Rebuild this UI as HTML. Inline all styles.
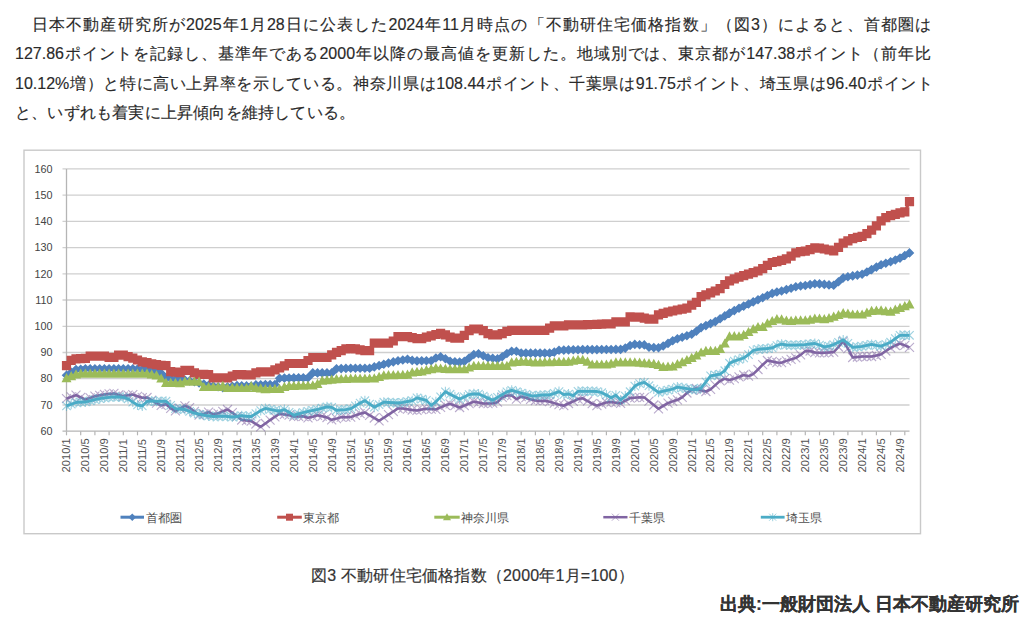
<!DOCTYPE html>
<html lang="ja"><head><meta charset="utf-8"><style>
html,body{margin:0;padding:0;background:#fff;width:1024px;height:619px;overflow:hidden}
body{position:relative;font-family:"Liberation Sans",sans-serif;color:#2a2a2a}
.ln{position:absolute;white-space:nowrap;font-size:16px;-webkit-text-stroke:0.15px #2a2a2a;line-height:20px;left:15px;width:916px;text-align:justify;text-align-last:justify}
#l4{text-align:left;text-align-last:left;letter-spacing:0.2px}
svg{position:absolute;left:0;top:0}
.yl{font-family:"Liberation Sans",sans-serif;font-size:10.8px;fill:#444}
.xl{font-family:"Liberation Sans",sans-serif;font-size:11.2px;fill:#505050}
.lg{font-family:"Liberation Sans",sans-serif;font-size:12px;fill:#4d4d4d}
#cap{position:absolute;left:311px;top:566px;font-size:16px;-webkit-text-stroke:0.2px #333;letter-spacing:0.2px;line-height:20px;white-space:nowrap;color:#333}
#src{position:absolute;left:720px;top:594px;font-size:17.5px;line-height:20px;white-space:nowrap;font-weight:bold;color:#333;-webkit-text-stroke:0.2px #333}
</style></head><body>
<div class="ln" id="l1" style="top:15px;text-indent:17px">日本不動産研究所が2025年1月28日に公表した2024年11月時点の「不動研住宅価格指数」（図3）によると、首都圏は</div>
<div class="ln" id="l2" style="top:44px">127.86ポイントを記録し、基準年である2000年以降の最高値を更新した。地域別では、東京都が147.38ポイント（前年比</div>
<div class="ln" id="l3" style="top:74px;width:918px">10.12%増）と特に高い上昇率を示している。神奈川県は108.44ポイント、千葉県は91.75ポイント、埼玉県は96.40ポイント</div>
<div class="ln" id="l4" style="top:103px">と、いずれも着実に上昇傾向を維持している。</div>
<svg width="1024" height="619" viewBox="0 0 1024 619"><rect x="24" y="150.2" width="896.5" height="383.5" fill="#fff" stroke="#c9c9c9" stroke-width="1.4"/><line x1="62.5" x2="909.5" y1="431.2" y2="431.2" stroke="#b5b5b5" stroke-width="1.3"/><text x="52.5" y="434.9" text-anchor="end" class="yl">60</text><line x1="62.5" x2="909.5" y1="405.0" y2="405.0" stroke="#cfcfcf" stroke-width="1.3"/><text x="52.5" y="408.7" text-anchor="end" class="yl">70</text><line x1="62.5" x2="909.5" y1="378.7" y2="378.7" stroke="#cfcfcf" stroke-width="1.3"/><text x="52.5" y="382.4" text-anchor="end" class="yl">80</text><line x1="62.5" x2="909.5" y1="352.5" y2="352.5" stroke="#cfcfcf" stroke-width="1.3"/><text x="52.5" y="356.2" text-anchor="end" class="yl">90</text><line x1="62.5" x2="909.5" y1="326.3" y2="326.3" stroke="#cfcfcf" stroke-width="1.3"/><text x="52.5" y="330.0" text-anchor="end" class="yl">100</text><line x1="62.5" x2="909.5" y1="300.0" y2="300.0" stroke="#cfcfcf" stroke-width="1.3"/><text x="52.5" y="303.7" text-anchor="end" class="yl">110</text><line x1="62.5" x2="909.5" y1="273.8" y2="273.8" stroke="#cfcfcf" stroke-width="1.3"/><text x="52.5" y="277.5" text-anchor="end" class="yl">120</text><line x1="62.5" x2="909.5" y1="247.6" y2="247.6" stroke="#cfcfcf" stroke-width="1.3"/><text x="52.5" y="251.3" text-anchor="end" class="yl">130</text><line x1="62.5" x2="909.5" y1="221.4" y2="221.4" stroke="#cfcfcf" stroke-width="1.3"/><text x="52.5" y="225.1" text-anchor="end" class="yl">140</text><line x1="62.5" x2="909.5" y1="195.1" y2="195.1" stroke="#cfcfcf" stroke-width="1.3"/><text x="52.5" y="198.8" text-anchor="end" class="yl">150</text><line x1="62.5" x2="909.5" y1="168.9" y2="168.9" stroke="#cfcfcf" stroke-width="1.3"/><text x="52.5" y="172.6" text-anchor="end" class="yl">160</text><line x1="66.5" x2="66.5" y1="168.9" y2="431.2" stroke="#b5b5b5" stroke-width="1.3"/><line x1="66.5" x2="66.5" y1="431.2" y2="435.3" stroke="#b5b5b5" stroke-width="1.2"/><line x1="80.7" x2="80.7" y1="431.2" y2="435.3" stroke="#b5b5b5" stroke-width="1.2"/><line x1="94.9" x2="94.9" y1="431.2" y2="435.3" stroke="#b5b5b5" stroke-width="1.2"/><line x1="109.1" x2="109.1" y1="431.2" y2="435.3" stroke="#b5b5b5" stroke-width="1.2"/><line x1="123.3" x2="123.3" y1="431.2" y2="435.3" stroke="#b5b5b5" stroke-width="1.2"/><line x1="137.5" x2="137.5" y1="431.2" y2="435.3" stroke="#b5b5b5" stroke-width="1.2"/><line x1="151.7" x2="151.7" y1="431.2" y2="435.3" stroke="#b5b5b5" stroke-width="1.2"/><line x1="166.0" x2="166.0" y1="431.2" y2="435.3" stroke="#b5b5b5" stroke-width="1.2"/><line x1="180.2" x2="180.2" y1="431.2" y2="435.3" stroke="#b5b5b5" stroke-width="1.2"/><line x1="194.4" x2="194.4" y1="431.2" y2="435.3" stroke="#b5b5b5" stroke-width="1.2"/><line x1="208.6" x2="208.6" y1="431.2" y2="435.3" stroke="#b5b5b5" stroke-width="1.2"/><line x1="222.8" x2="222.8" y1="431.2" y2="435.3" stroke="#b5b5b5" stroke-width="1.2"/><line x1="237.0" x2="237.0" y1="431.2" y2="435.3" stroke="#b5b5b5" stroke-width="1.2"/><line x1="251.2" x2="251.2" y1="431.2" y2="435.3" stroke="#b5b5b5" stroke-width="1.2"/><line x1="265.4" x2="265.4" y1="431.2" y2="435.3" stroke="#b5b5b5" stroke-width="1.2"/><line x1="279.6" x2="279.6" y1="431.2" y2="435.3" stroke="#b5b5b5" stroke-width="1.2"/><line x1="293.8" x2="293.8" y1="431.2" y2="435.3" stroke="#b5b5b5" stroke-width="1.2"/><line x1="308.0" x2="308.0" y1="431.2" y2="435.3" stroke="#b5b5b5" stroke-width="1.2"/><line x1="322.2" x2="322.2" y1="431.2" y2="435.3" stroke="#b5b5b5" stroke-width="1.2"/><line x1="336.5" x2="336.5" y1="431.2" y2="435.3" stroke="#b5b5b5" stroke-width="1.2"/><line x1="350.7" x2="350.7" y1="431.2" y2="435.3" stroke="#b5b5b5" stroke-width="1.2"/><line x1="364.9" x2="364.9" y1="431.2" y2="435.3" stroke="#b5b5b5" stroke-width="1.2"/><line x1="379.1" x2="379.1" y1="431.2" y2="435.3" stroke="#b5b5b5" stroke-width="1.2"/><line x1="393.3" x2="393.3" y1="431.2" y2="435.3" stroke="#b5b5b5" stroke-width="1.2"/><line x1="407.5" x2="407.5" y1="431.2" y2="435.3" stroke="#b5b5b5" stroke-width="1.2"/><line x1="421.7" x2="421.7" y1="431.2" y2="435.3" stroke="#b5b5b5" stroke-width="1.2"/><line x1="435.9" x2="435.9" y1="431.2" y2="435.3" stroke="#b5b5b5" stroke-width="1.2"/><line x1="450.1" x2="450.1" y1="431.2" y2="435.3" stroke="#b5b5b5" stroke-width="1.2"/><line x1="464.3" x2="464.3" y1="431.2" y2="435.3" stroke="#b5b5b5" stroke-width="1.2"/><line x1="478.5" x2="478.5" y1="431.2" y2="435.3" stroke="#b5b5b5" stroke-width="1.2"/><line x1="492.7" x2="492.7" y1="431.2" y2="435.3" stroke="#b5b5b5" stroke-width="1.2"/><line x1="506.9" x2="506.9" y1="431.2" y2="435.3" stroke="#b5b5b5" stroke-width="1.2"/><line x1="521.2" x2="521.2" y1="431.2" y2="435.3" stroke="#b5b5b5" stroke-width="1.2"/><line x1="535.4" x2="535.4" y1="431.2" y2="435.3" stroke="#b5b5b5" stroke-width="1.2"/><line x1="549.6" x2="549.6" y1="431.2" y2="435.3" stroke="#b5b5b5" stroke-width="1.2"/><line x1="563.8" x2="563.8" y1="431.2" y2="435.3" stroke="#b5b5b5" stroke-width="1.2"/><line x1="578.0" x2="578.0" y1="431.2" y2="435.3" stroke="#b5b5b5" stroke-width="1.2"/><line x1="592.2" x2="592.2" y1="431.2" y2="435.3" stroke="#b5b5b5" stroke-width="1.2"/><line x1="606.4" x2="606.4" y1="431.2" y2="435.3" stroke="#b5b5b5" stroke-width="1.2"/><line x1="620.6" x2="620.6" y1="431.2" y2="435.3" stroke="#b5b5b5" stroke-width="1.2"/><line x1="634.8" x2="634.8" y1="431.2" y2="435.3" stroke="#b5b5b5" stroke-width="1.2"/><line x1="649.0" x2="649.0" y1="431.2" y2="435.3" stroke="#b5b5b5" stroke-width="1.2"/><line x1="663.2" x2="663.2" y1="431.2" y2="435.3" stroke="#b5b5b5" stroke-width="1.2"/><line x1="677.4" x2="677.4" y1="431.2" y2="435.3" stroke="#b5b5b5" stroke-width="1.2"/><line x1="691.7" x2="691.7" y1="431.2" y2="435.3" stroke="#b5b5b5" stroke-width="1.2"/><line x1="705.9" x2="705.9" y1="431.2" y2="435.3" stroke="#b5b5b5" stroke-width="1.2"/><line x1="720.1" x2="720.1" y1="431.2" y2="435.3" stroke="#b5b5b5" stroke-width="1.2"/><line x1="734.3" x2="734.3" y1="431.2" y2="435.3" stroke="#b5b5b5" stroke-width="1.2"/><line x1="748.5" x2="748.5" y1="431.2" y2="435.3" stroke="#b5b5b5" stroke-width="1.2"/><line x1="762.7" x2="762.7" y1="431.2" y2="435.3" stroke="#b5b5b5" stroke-width="1.2"/><line x1="776.9" x2="776.9" y1="431.2" y2="435.3" stroke="#b5b5b5" stroke-width="1.2"/><line x1="791.1" x2="791.1" y1="431.2" y2="435.3" stroke="#b5b5b5" stroke-width="1.2"/><line x1="805.3" x2="805.3" y1="431.2" y2="435.3" stroke="#b5b5b5" stroke-width="1.2"/><line x1="819.5" x2="819.5" y1="431.2" y2="435.3" stroke="#b5b5b5" stroke-width="1.2"/><line x1="833.7" x2="833.7" y1="431.2" y2="435.3" stroke="#b5b5b5" stroke-width="1.2"/><line x1="847.9" x2="847.9" y1="431.2" y2="435.3" stroke="#b5b5b5" stroke-width="1.2"/><line x1="862.1" x2="862.1" y1="431.2" y2="435.3" stroke="#b5b5b5" stroke-width="1.2"/><line x1="876.4" x2="876.4" y1="431.2" y2="435.3" stroke="#b5b5b5" stroke-width="1.2"/><line x1="890.6" x2="890.6" y1="431.2" y2="435.3" stroke="#b5b5b5" stroke-width="1.2"/><line x1="904.8" x2="904.8" y1="431.2" y2="435.3" stroke="#b5b5b5" stroke-width="1.2"/><text transform="translate(70.3,472.5) rotate(-90)" class="xl">2010/1</text><text transform="translate(89.2,472.5) rotate(-90)" class="xl">2010/5</text><text transform="translate(108.2,472.5) rotate(-90)" class="xl">2010/9</text><text transform="translate(127.1,472.5) rotate(-90)" class="xl">2011/1</text><text transform="translate(146.1,472.5) rotate(-90)" class="xl">2011/5</text><text transform="translate(165.0,472.5) rotate(-90)" class="xl">2011/9</text><text transform="translate(184.0,472.5) rotate(-90)" class="xl">2012/1</text><text transform="translate(202.9,472.5) rotate(-90)" class="xl">2012/5</text><text transform="translate(221.9,472.5) rotate(-90)" class="xl">2012/9</text><text transform="translate(240.8,472.5) rotate(-90)" class="xl">2013/1</text><text transform="translate(259.7,472.5) rotate(-90)" class="xl">2013/5</text><text transform="translate(278.7,472.5) rotate(-90)" class="xl">2013/9</text><text transform="translate(297.6,472.5) rotate(-90)" class="xl">2014/1</text><text transform="translate(316.6,472.5) rotate(-90)" class="xl">2014/5</text><text transform="translate(335.5,472.5) rotate(-90)" class="xl">2014/9</text><text transform="translate(354.5,472.5) rotate(-90)" class="xl">2015/1</text><text transform="translate(373.4,472.5) rotate(-90)" class="xl">2015/5</text><text transform="translate(392.3,472.5) rotate(-90)" class="xl">2015/9</text><text transform="translate(411.3,472.5) rotate(-90)" class="xl">2016/1</text><text transform="translate(430.2,472.5) rotate(-90)" class="xl">2016/5</text><text transform="translate(449.2,472.5) rotate(-90)" class="xl">2016/9</text><text transform="translate(468.1,472.5) rotate(-90)" class="xl">2017/1</text><text transform="translate(487.1,472.5) rotate(-90)" class="xl">2017/5</text><text transform="translate(506.0,472.5) rotate(-90)" class="xl">2017/9</text><text transform="translate(525.0,472.5) rotate(-90)" class="xl">2018/1</text><text transform="translate(543.9,472.5) rotate(-90)" class="xl">2018/5</text><text transform="translate(562.8,472.5) rotate(-90)" class="xl">2018/9</text><text transform="translate(581.8,472.5) rotate(-90)" class="xl">2019/1</text><text transform="translate(600.7,472.5) rotate(-90)" class="xl">2019/5</text><text transform="translate(619.7,472.5) rotate(-90)" class="xl">2019/9</text><text transform="translate(638.6,472.5) rotate(-90)" class="xl">2020/1</text><text transform="translate(657.6,472.5) rotate(-90)" class="xl">2020/5</text><text transform="translate(676.5,472.5) rotate(-90)" class="xl">2020/9</text><text transform="translate(695.5,472.5) rotate(-90)" class="xl">2021/1</text><text transform="translate(714.4,472.5) rotate(-90)" class="xl">2021/5</text><text transform="translate(733.3,472.5) rotate(-90)" class="xl">2021/9</text><text transform="translate(752.3,472.5) rotate(-90)" class="xl">2022/1</text><text transform="translate(771.2,472.5) rotate(-90)" class="xl">2022/5</text><text transform="translate(790.2,472.5) rotate(-90)" class="xl">2022/9</text><text transform="translate(809.1,472.5) rotate(-90)" class="xl">2023/1</text><text transform="translate(828.1,472.5) rotate(-90)" class="xl">2023/5</text><text transform="translate(847.0,472.5) rotate(-90)" class="xl">2023/9</text><text transform="translate(865.9,472.5) rotate(-90)" class="xl">2024/1</text><text transform="translate(884.9,472.5) rotate(-90)" class="xl">2024/5</text><text transform="translate(903.8,472.5) rotate(-90)" class="xl">2024/9</text><polyline points="66.5,375.3 71.2,372.4 76.0,369.5 80.7,369.2 85.4,368.8 90.2,368.8 94.9,368.8 99.7,368.8 104.4,368.8 109.1,368.8 113.9,368.8 118.6,368.8 123.3,368.8 128.1,368.8 132.8,368.8 137.5,369.0 142.3,369.3 147.0,370.0 151.7,370.7 156.5,371.4 161.2,373.2 166.0,377.7 170.7,378.4 175.4,379.2 180.2,379.6 184.9,380.0 189.6,380.9 194.4,381.8 199.1,383.0 203.8,384.1 208.6,385.2 213.3,386.0 218.1,386.8 222.8,387.6 227.5,386.9 232.3,386.2 237.0,385.5 241.7,385.7 246.5,385.9 251.2,386.0 255.9,384.7 260.7,384.7 265.4,384.6 270.1,384.5 274.9,384.5 279.6,378.2 284.4,378.1 289.1,378.0 293.8,377.9 298.6,377.8 303.3,377.7 308.0,377.7 312.8,372.9 317.5,372.9 322.2,372.9 327.0,372.9 331.7,372.9 336.5,368.8 341.2,368.6 345.9,368.4 350.7,368.2 355.4,368.2 360.1,368.2 364.9,368.2 369.6,368.2 374.3,366.9 379.1,365.6 383.8,364.3 388.5,363.1 393.3,361.9 398.0,360.7 402.8,360.0 407.5,359.3 412.2,360.4 417.0,360.9 421.7,360.8 426.4,360.8 431.2,360.7 435.9,358.0 440.6,356.7 445.4,358.7 450.1,361.2 454.9,361.7 459.6,362.1 464.3,361.4 469.1,358.0 473.8,354.5 478.5,353.8 483.3,355.8 488.0,357.8 492.7,358.3 497.5,358.9 502.2,356.8 506.9,353.5 511.7,351.2 516.4,351.2 521.2,353.1 525.9,353.1 530.6,353.1 535.4,353.1 540.1,353.1 544.8,353.1 549.6,353.1 554.3,352.1 559.0,350.2 563.8,350.1 568.5,349.9 573.3,349.8 578.0,349.7 582.7,349.6 587.5,349.6 592.2,349.6 596.9,349.6 601.7,349.5 606.4,349.5 611.1,349.5 615.9,349.4 620.6,349.4 625.3,348.1 630.1,345.5 634.8,344.4 639.6,344.7 644.3,344.9 649.0,347.3 653.8,347.6 658.5,347.8 663.2,346.0 668.0,343.4 672.7,340.8 677.4,338.7 682.2,337.2 686.9,335.8 691.7,334.3 696.4,331.2 701.1,327.6 705.9,325.6 710.6,323.6 715.3,321.6 720.1,318.8 724.8,315.9 729.5,313.1 734.3,310.6 739.0,308.2 743.7,306.1 748.5,304.0 753.2,301.9 758.0,299.8 762.7,297.7 767.4,295.5 772.2,293.4 776.9,292.0 781.6,291.0 786.4,289.6 791.1,288.2 795.8,286.8 800.6,286.0 805.3,285.5 810.1,284.6 814.8,283.7 819.5,283.9 824.3,284.4 829.0,284.9 833.7,285.3 838.5,281.8 843.2,277.9 847.9,276.7 852.7,275.9 857.4,275.1 862.1,274.3 866.9,272.0 871.6,269.6 876.4,267.1 881.1,264.8 885.8,263.3 890.6,261.8 895.3,260.0 900.0,258.1 904.8,255.5 909.5,252.9" fill="none" stroke="#4F81BD" stroke-width="3" stroke-linejoin="round"/><path d="M66.5 370.5l4.8 4.8l-4.8 4.8l-4.8-4.8zM71.2 367.6l4.8 4.8l-4.8 4.8l-4.8-4.8zM76.0 364.7l4.8 4.8l-4.8 4.8l-4.8-4.8zM80.7 364.4l4.8 4.8l-4.8 4.8l-4.8-4.8zM85.4 364.0l4.8 4.8l-4.8 4.8l-4.8-4.8zM90.2 364.0l4.8 4.8l-4.8 4.8l-4.8-4.8zM94.9 364.0l4.8 4.8l-4.8 4.8l-4.8-4.8zM99.7 364.0l4.8 4.8l-4.8 4.8l-4.8-4.8zM104.4 364.0l4.8 4.8l-4.8 4.8l-4.8-4.8zM109.1 364.0l4.8 4.8l-4.8 4.8l-4.8-4.8zM113.9 364.0l4.8 4.8l-4.8 4.8l-4.8-4.8zM118.6 364.0l4.8 4.8l-4.8 4.8l-4.8-4.8zM123.3 364.0l4.8 4.8l-4.8 4.8l-4.8-4.8zM128.1 364.0l4.8 4.8l-4.8 4.8l-4.8-4.8zM132.8 364.0l4.8 4.8l-4.8 4.8l-4.8-4.8zM137.5 364.2l4.8 4.8l-4.8 4.8l-4.8-4.8zM142.3 364.5l4.8 4.8l-4.8 4.8l-4.8-4.8zM147.0 365.2l4.8 4.8l-4.8 4.8l-4.8-4.8zM151.7 365.9l4.8 4.8l-4.8 4.8l-4.8-4.8zM156.5 366.6l4.8 4.8l-4.8 4.8l-4.8-4.8zM161.2 368.4l4.8 4.8l-4.8 4.8l-4.8-4.8zM166.0 372.9l4.8 4.8l-4.8 4.8l-4.8-4.8zM170.7 373.6l4.8 4.8l-4.8 4.8l-4.8-4.8zM175.4 374.4l4.8 4.8l-4.8 4.8l-4.8-4.8zM180.2 374.8l4.8 4.8l-4.8 4.8l-4.8-4.8zM184.9 375.2l4.8 4.8l-4.8 4.8l-4.8-4.8zM189.6 376.1l4.8 4.8l-4.8 4.8l-4.8-4.8zM194.4 377.0l4.8 4.8l-4.8 4.8l-4.8-4.8zM199.1 378.2l4.8 4.8l-4.8 4.8l-4.8-4.8zM203.8 379.3l4.8 4.8l-4.8 4.8l-4.8-4.8zM208.6 380.4l4.8 4.8l-4.8 4.8l-4.8-4.8zM213.3 381.2l4.8 4.8l-4.8 4.8l-4.8-4.8zM218.1 382.0l4.8 4.8l-4.8 4.8l-4.8-4.8zM222.8 382.8l4.8 4.8l-4.8 4.8l-4.8-4.8zM227.5 382.1l4.8 4.8l-4.8 4.8l-4.8-4.8zM232.3 381.4l4.8 4.8l-4.8 4.8l-4.8-4.8zM237.0 380.7l4.8 4.8l-4.8 4.8l-4.8-4.8zM241.7 380.9l4.8 4.8l-4.8 4.8l-4.8-4.8zM246.5 381.1l4.8 4.8l-4.8 4.8l-4.8-4.8zM251.2 381.2l4.8 4.8l-4.8 4.8l-4.8-4.8zM255.9 379.9l4.8 4.8l-4.8 4.8l-4.8-4.8zM260.7 379.9l4.8 4.8l-4.8 4.8l-4.8-4.8zM265.4 379.8l4.8 4.8l-4.8 4.8l-4.8-4.8zM270.1 379.7l4.8 4.8l-4.8 4.8l-4.8-4.8zM274.9 379.7l4.8 4.8l-4.8 4.8l-4.8-4.8zM279.6 373.4l4.8 4.8l-4.8 4.8l-4.8-4.8zM284.4 373.3l4.8 4.8l-4.8 4.8l-4.8-4.8zM289.1 373.2l4.8 4.8l-4.8 4.8l-4.8-4.8zM293.8 373.1l4.8 4.8l-4.8 4.8l-4.8-4.8zM298.6 373.0l4.8 4.8l-4.8 4.8l-4.8-4.8zM303.3 372.9l4.8 4.8l-4.8 4.8l-4.8-4.8zM308.0 372.9l4.8 4.8l-4.8 4.8l-4.8-4.8zM312.8 368.1l4.8 4.8l-4.8 4.8l-4.8-4.8zM317.5 368.1l4.8 4.8l-4.8 4.8l-4.8-4.8zM322.2 368.1l4.8 4.8l-4.8 4.8l-4.8-4.8zM327.0 368.1l4.8 4.8l-4.8 4.8l-4.8-4.8zM331.7 368.1l4.8 4.8l-4.8 4.8l-4.8-4.8zM336.5 364.0l4.8 4.8l-4.8 4.8l-4.8-4.8zM341.2 363.8l4.8 4.8l-4.8 4.8l-4.8-4.8zM345.9 363.6l4.8 4.8l-4.8 4.8l-4.8-4.8zM350.7 363.4l4.8 4.8l-4.8 4.8l-4.8-4.8zM355.4 363.4l4.8 4.8l-4.8 4.8l-4.8-4.8zM360.1 363.4l4.8 4.8l-4.8 4.8l-4.8-4.8zM364.9 363.4l4.8 4.8l-4.8 4.8l-4.8-4.8zM369.6 363.4l4.8 4.8l-4.8 4.8l-4.8-4.8zM374.3 362.1l4.8 4.8l-4.8 4.8l-4.8-4.8zM379.1 360.8l4.8 4.8l-4.8 4.8l-4.8-4.8zM383.8 359.5l4.8 4.8l-4.8 4.8l-4.8-4.8zM388.5 358.3l4.8 4.8l-4.8 4.8l-4.8-4.8zM393.3 357.1l4.8 4.8l-4.8 4.8l-4.8-4.8zM398.0 355.9l4.8 4.8l-4.8 4.8l-4.8-4.8zM402.8 355.2l4.8 4.8l-4.8 4.8l-4.8-4.8zM407.5 354.5l4.8 4.8l-4.8 4.8l-4.8-4.8zM412.2 355.6l4.8 4.8l-4.8 4.8l-4.8-4.8zM417.0 356.1l4.8 4.8l-4.8 4.8l-4.8-4.8zM421.7 356.0l4.8 4.8l-4.8 4.8l-4.8-4.8zM426.4 356.0l4.8 4.8l-4.8 4.8l-4.8-4.8zM431.2 355.9l4.8 4.8l-4.8 4.8l-4.8-4.8zM435.9 353.2l4.8 4.8l-4.8 4.8l-4.8-4.8zM440.6 351.9l4.8 4.8l-4.8 4.8l-4.8-4.8zM445.4 353.9l4.8 4.8l-4.8 4.8l-4.8-4.8zM450.1 356.4l4.8 4.8l-4.8 4.8l-4.8-4.8zM454.9 356.9l4.8 4.8l-4.8 4.8l-4.8-4.8zM459.6 357.3l4.8 4.8l-4.8 4.8l-4.8-4.8zM464.3 356.6l4.8 4.8l-4.8 4.8l-4.8-4.8zM469.1 353.2l4.8 4.8l-4.8 4.8l-4.8-4.8zM473.8 349.7l4.8 4.8l-4.8 4.8l-4.8-4.8zM478.5 349.0l4.8 4.8l-4.8 4.8l-4.8-4.8zM483.3 351.0l4.8 4.8l-4.8 4.8l-4.8-4.8zM488.0 353.0l4.8 4.8l-4.8 4.8l-4.8-4.8zM492.7 353.5l4.8 4.8l-4.8 4.8l-4.8-4.8zM497.5 354.1l4.8 4.8l-4.8 4.8l-4.8-4.8zM502.2 352.0l4.8 4.8l-4.8 4.8l-4.8-4.8zM506.9 348.7l4.8 4.8l-4.8 4.8l-4.8-4.8zM511.7 346.4l4.8 4.8l-4.8 4.8l-4.8-4.8zM516.4 346.4l4.8 4.8l-4.8 4.8l-4.8-4.8zM521.2 348.3l4.8 4.8l-4.8 4.8l-4.8-4.8zM525.9 348.3l4.8 4.8l-4.8 4.8l-4.8-4.8zM530.6 348.3l4.8 4.8l-4.8 4.8l-4.8-4.8zM535.4 348.3l4.8 4.8l-4.8 4.8l-4.8-4.8zM540.1 348.3l4.8 4.8l-4.8 4.8l-4.8-4.8zM544.8 348.3l4.8 4.8l-4.8 4.8l-4.8-4.8zM549.6 348.3l4.8 4.8l-4.8 4.8l-4.8-4.8zM554.3 347.3l4.8 4.8l-4.8 4.8l-4.8-4.8zM559.0 345.4l4.8 4.8l-4.8 4.8l-4.8-4.8zM563.8 345.3l4.8 4.8l-4.8 4.8l-4.8-4.8zM568.5 345.1l4.8 4.8l-4.8 4.8l-4.8-4.8zM573.3 345.0l4.8 4.8l-4.8 4.8l-4.8-4.8zM578.0 344.9l4.8 4.8l-4.8 4.8l-4.8-4.8zM582.7 344.8l4.8 4.8l-4.8 4.8l-4.8-4.8zM587.5 344.8l4.8 4.8l-4.8 4.8l-4.8-4.8zM592.2 344.8l4.8 4.8l-4.8 4.8l-4.8-4.8zM596.9 344.8l4.8 4.8l-4.8 4.8l-4.8-4.8zM601.7 344.7l4.8 4.8l-4.8 4.8l-4.8-4.8zM606.4 344.7l4.8 4.8l-4.8 4.8l-4.8-4.8zM611.1 344.7l4.8 4.8l-4.8 4.8l-4.8-4.8zM615.9 344.6l4.8 4.8l-4.8 4.8l-4.8-4.8zM620.6 344.6l4.8 4.8l-4.8 4.8l-4.8-4.8zM625.3 343.3l4.8 4.8l-4.8 4.8l-4.8-4.8zM630.1 340.7l4.8 4.8l-4.8 4.8l-4.8-4.8zM634.8 339.6l4.8 4.8l-4.8 4.8l-4.8-4.8zM639.6 339.9l4.8 4.8l-4.8 4.8l-4.8-4.8zM644.3 340.1l4.8 4.8l-4.8 4.8l-4.8-4.8zM649.0 342.5l4.8 4.8l-4.8 4.8l-4.8-4.8zM653.8 342.8l4.8 4.8l-4.8 4.8l-4.8-4.8zM658.5 343.0l4.8 4.8l-4.8 4.8l-4.8-4.8zM663.2 341.2l4.8 4.8l-4.8 4.8l-4.8-4.8zM668.0 338.6l4.8 4.8l-4.8 4.8l-4.8-4.8zM672.7 336.0l4.8 4.8l-4.8 4.8l-4.8-4.8zM677.4 333.9l4.8 4.8l-4.8 4.8l-4.8-4.8zM682.2 332.4l4.8 4.8l-4.8 4.8l-4.8-4.8zM686.9 331.0l4.8 4.8l-4.8 4.8l-4.8-4.8zM691.7 329.5l4.8 4.8l-4.8 4.8l-4.8-4.8zM696.4 326.4l4.8 4.8l-4.8 4.8l-4.8-4.8zM701.1 322.8l4.8 4.8l-4.8 4.8l-4.8-4.8zM705.9 320.8l4.8 4.8l-4.8 4.8l-4.8-4.8zM710.6 318.8l4.8 4.8l-4.8 4.8l-4.8-4.8zM715.3 316.8l4.8 4.8l-4.8 4.8l-4.8-4.8zM720.1 314.0l4.8 4.8l-4.8 4.8l-4.8-4.8zM724.8 311.1l4.8 4.8l-4.8 4.8l-4.8-4.8zM729.5 308.3l4.8 4.8l-4.8 4.8l-4.8-4.8zM734.3 305.8l4.8 4.8l-4.8 4.8l-4.8-4.8zM739.0 303.4l4.8 4.8l-4.8 4.8l-4.8-4.8zM743.7 301.3l4.8 4.8l-4.8 4.8l-4.8-4.8zM748.5 299.2l4.8 4.8l-4.8 4.8l-4.8-4.8zM753.2 297.1l4.8 4.8l-4.8 4.8l-4.8-4.8zM758.0 295.0l4.8 4.8l-4.8 4.8l-4.8-4.8zM762.7 292.9l4.8 4.8l-4.8 4.8l-4.8-4.8zM767.4 290.7l4.8 4.8l-4.8 4.8l-4.8-4.8zM772.2 288.6l4.8 4.8l-4.8 4.8l-4.8-4.8zM776.9 287.2l4.8 4.8l-4.8 4.8l-4.8-4.8zM781.6 286.2l4.8 4.8l-4.8 4.8l-4.8-4.8zM786.4 284.8l4.8 4.8l-4.8 4.8l-4.8-4.8zM791.1 283.4l4.8 4.8l-4.8 4.8l-4.8-4.8zM795.8 282.0l4.8 4.8l-4.8 4.8l-4.8-4.8zM800.6 281.2l4.8 4.8l-4.8 4.8l-4.8-4.8zM805.3 280.7l4.8 4.8l-4.8 4.8l-4.8-4.8zM810.1 279.8l4.8 4.8l-4.8 4.8l-4.8-4.8zM814.8 278.9l4.8 4.8l-4.8 4.8l-4.8-4.8zM819.5 279.1l4.8 4.8l-4.8 4.8l-4.8-4.8zM824.3 279.6l4.8 4.8l-4.8 4.8l-4.8-4.8zM829.0 280.1l4.8 4.8l-4.8 4.8l-4.8-4.8zM833.7 280.5l4.8 4.8l-4.8 4.8l-4.8-4.8zM838.5 277.0l4.8 4.8l-4.8 4.8l-4.8-4.8zM843.2 273.1l4.8 4.8l-4.8 4.8l-4.8-4.8zM847.9 271.9l4.8 4.8l-4.8 4.8l-4.8-4.8zM852.7 271.1l4.8 4.8l-4.8 4.8l-4.8-4.8zM857.4 270.3l4.8 4.8l-4.8 4.8l-4.8-4.8zM862.1 269.5l4.8 4.8l-4.8 4.8l-4.8-4.8zM866.9 267.2l4.8 4.8l-4.8 4.8l-4.8-4.8zM871.6 264.8l4.8 4.8l-4.8 4.8l-4.8-4.8zM876.4 262.3l4.8 4.8l-4.8 4.8l-4.8-4.8zM881.1 260.0l4.8 4.8l-4.8 4.8l-4.8-4.8zM885.8 258.5l4.8 4.8l-4.8 4.8l-4.8-4.8zM890.6 257.0l4.8 4.8l-4.8 4.8l-4.8-4.8zM895.3 255.2l4.8 4.8l-4.8 4.8l-4.8-4.8zM900.0 253.3l4.8 4.8l-4.8 4.8l-4.8-4.8zM904.8 250.7l4.8 4.8l-4.8 4.8l-4.8-4.8zM909.5 248.1l4.8 4.8l-4.8 4.8l-4.8-4.8z" fill="#4F81BD"/><polyline points="66.5,365.6 71.2,360.4 76.0,358.8 80.7,358.6 85.4,358.3 90.2,356.2 94.9,356.2 99.7,356.2 104.4,356.2 109.1,357.3 113.9,357.3 118.6,355.2 123.3,355.2 128.1,356.6 132.8,358.2 137.5,360.0 142.3,361.8 147.0,362.7 151.7,363.9 156.5,364.7 161.2,365.3 166.0,365.6 170.7,371.6 175.4,372.1 180.2,372.7 184.9,370.3 189.6,370.3 194.4,372.8 199.1,374.3 203.8,374.4 208.6,374.5 213.3,377.9 218.1,377.9 222.8,377.9 227.5,377.9 232.3,376.2 237.0,374.6 241.7,374.7 246.5,374.8 251.2,375.0 255.9,372.8 260.7,371.9 265.4,371.9 270.1,371.9 274.9,369.9 279.6,368.0 284.4,365.8 289.1,363.5 293.8,363.5 298.6,363.5 303.3,363.5 308.0,360.5 312.8,357.5 317.5,357.5 322.2,357.5 327.0,357.5 331.7,354.9 336.5,352.3 341.2,350.6 345.9,348.8 350.7,348.6 355.4,348.8 360.1,349.8 364.9,350.7 369.6,350.7 374.3,343.1 379.1,343.1 383.8,343.1 388.5,343.1 393.3,341.0 398.0,336.6 402.8,336.6 407.5,336.6 412.2,337.6 417.0,338.7 421.7,338.7 426.4,337.2 431.2,335.8 435.9,334.5 440.6,333.4 445.4,334.9 450.1,337.1 454.9,338.2 459.6,338.2 464.3,335.3 469.1,330.7 473.8,329.0 478.5,329.0 483.3,330.7 488.0,333.6 492.7,334.8 497.5,334.8 502.2,333.6 506.9,331.4 511.7,330.3 516.4,330.3 521.2,330.3 525.9,330.3 530.6,330.3 535.4,330.3 540.1,330.3 544.8,330.3 549.6,328.1 554.3,325.9 559.0,325.9 563.8,325.9 568.5,324.8 573.3,324.8 578.0,324.8 582.7,324.8 587.5,324.6 592.2,324.5 596.9,324.3 601.7,324.1 606.4,323.9 611.1,323.8 615.9,321.9 620.6,321.9 625.3,321.9 630.1,316.9 634.8,317.2 639.6,317.2 644.3,318.1 649.0,319.1 653.8,319.1 658.5,314.9 663.2,313.4 668.0,312.0 672.7,311.0 677.4,310.0 682.2,309.1 686.9,308.1 691.7,305.2 696.4,302.3 701.1,296.6 705.9,294.8 710.6,292.9 715.3,291.0 720.1,288.7 724.8,284.5 729.5,280.8 734.3,278.9 739.0,277.2 743.7,275.7 748.5,274.2 753.2,272.7 758.0,271.0 762.7,268.6 767.4,265.3 772.2,262.5 776.9,261.6 781.6,260.3 786.4,258.8 791.1,256.1 795.8,252.8 800.6,251.6 805.3,251.2 810.1,249.7 814.8,247.8 819.5,248.1 824.3,249.0 829.0,250.0 833.7,250.9 838.5,247.3 843.2,243.1 847.9,240.8 852.7,238.7 857.4,237.4 862.1,236.3 866.9,233.6 871.6,230.2 876.4,225.8 881.1,220.8 885.8,217.6 890.6,215.7 895.3,214.3 900.0,212.8 904.8,211.8 909.5,201.6" fill="none" stroke="#C0504D" stroke-width="3" stroke-linejoin="round"/><path d="M61.9 361.0h9.2v9.2h-9.2zM66.6 355.8h9.2v9.2h-9.2zM71.4 354.2h9.2v9.2h-9.2zM76.1 354.0h9.2v9.2h-9.2zM80.8 353.7h9.2v9.2h-9.2zM85.6 351.6h9.2v9.2h-9.2zM90.3 351.6h9.2v9.2h-9.2zM95.1 351.6h9.2v9.2h-9.2zM99.8 351.6h9.2v9.2h-9.2zM104.5 352.7h9.2v9.2h-9.2zM109.3 352.7h9.2v9.2h-9.2zM114.0 350.6h9.2v9.2h-9.2zM118.7 350.6h9.2v9.2h-9.2zM123.5 352.0h9.2v9.2h-9.2zM128.2 353.6h9.2v9.2h-9.2zM132.9 355.4h9.2v9.2h-9.2zM137.7 357.2h9.2v9.2h-9.2zM142.4 358.1h9.2v9.2h-9.2zM147.1 359.3h9.2v9.2h-9.2zM151.9 360.1h9.2v9.2h-9.2zM156.6 360.7h9.2v9.2h-9.2zM161.4 361.0h9.2v9.2h-9.2zM166.1 367.0h9.2v9.2h-9.2zM170.8 367.5h9.2v9.2h-9.2zM175.6 368.1h9.2v9.2h-9.2zM180.3 365.7h9.2v9.2h-9.2zM185.0 365.7h9.2v9.2h-9.2zM189.8 368.2h9.2v9.2h-9.2zM194.5 369.7h9.2v9.2h-9.2zM199.2 369.8h9.2v9.2h-9.2zM204.0 369.9h9.2v9.2h-9.2zM208.7 373.3h9.2v9.2h-9.2zM213.5 373.3h9.2v9.2h-9.2zM218.2 373.3h9.2v9.2h-9.2zM222.9 373.3h9.2v9.2h-9.2zM227.7 371.6h9.2v9.2h-9.2zM232.4 370.0h9.2v9.2h-9.2zM237.1 370.1h9.2v9.2h-9.2zM241.9 370.2h9.2v9.2h-9.2zM246.6 370.4h9.2v9.2h-9.2zM251.3 368.2h9.2v9.2h-9.2zM256.1 367.3h9.2v9.2h-9.2zM260.8 367.3h9.2v9.2h-9.2zM265.5 367.3h9.2v9.2h-9.2zM270.3 365.3h9.2v9.2h-9.2zM275.0 363.4h9.2v9.2h-9.2zM279.8 361.2h9.2v9.2h-9.2zM284.5 358.9h9.2v9.2h-9.2zM289.2 358.9h9.2v9.2h-9.2zM294.0 358.9h9.2v9.2h-9.2zM298.7 358.9h9.2v9.2h-9.2zM303.4 355.9h9.2v9.2h-9.2zM308.2 352.9h9.2v9.2h-9.2zM312.9 352.9h9.2v9.2h-9.2zM317.6 352.9h9.2v9.2h-9.2zM322.4 352.9h9.2v9.2h-9.2zM327.1 350.3h9.2v9.2h-9.2zM331.9 347.7h9.2v9.2h-9.2zM336.6 346.0h9.2v9.2h-9.2zM341.3 344.2h9.2v9.2h-9.2zM346.1 344.0h9.2v9.2h-9.2zM350.8 344.2h9.2v9.2h-9.2zM355.5 345.2h9.2v9.2h-9.2zM360.3 346.1h9.2v9.2h-9.2zM365.0 346.1h9.2v9.2h-9.2zM369.7 338.5h9.2v9.2h-9.2zM374.5 338.5h9.2v9.2h-9.2zM379.2 338.5h9.2v9.2h-9.2zM383.9 338.5h9.2v9.2h-9.2zM388.7 336.4h9.2v9.2h-9.2zM393.4 332.0h9.2v9.2h-9.2zM398.2 332.0h9.2v9.2h-9.2zM402.9 332.0h9.2v9.2h-9.2zM407.6 333.0h9.2v9.2h-9.2zM412.4 334.1h9.2v9.2h-9.2zM417.1 334.1h9.2v9.2h-9.2zM421.8 332.6h9.2v9.2h-9.2zM426.6 331.2h9.2v9.2h-9.2zM431.3 329.9h9.2v9.2h-9.2zM436.0 328.8h9.2v9.2h-9.2zM440.8 330.3h9.2v9.2h-9.2zM445.5 332.5h9.2v9.2h-9.2zM450.3 333.6h9.2v9.2h-9.2zM455.0 333.6h9.2v9.2h-9.2zM459.7 330.7h9.2v9.2h-9.2zM464.5 326.1h9.2v9.2h-9.2zM469.2 324.4h9.2v9.2h-9.2zM473.9 324.4h9.2v9.2h-9.2zM478.7 326.1h9.2v9.2h-9.2zM483.4 329.0h9.2v9.2h-9.2zM488.1 330.2h9.2v9.2h-9.2zM492.9 330.2h9.2v9.2h-9.2zM497.6 329.0h9.2v9.2h-9.2zM502.3 326.8h9.2v9.2h-9.2zM507.1 325.7h9.2v9.2h-9.2zM511.8 325.7h9.2v9.2h-9.2zM516.6 325.7h9.2v9.2h-9.2zM521.3 325.7h9.2v9.2h-9.2zM526.0 325.7h9.2v9.2h-9.2zM530.8 325.7h9.2v9.2h-9.2zM535.5 325.7h9.2v9.2h-9.2zM540.2 325.7h9.2v9.2h-9.2zM545.0 323.5h9.2v9.2h-9.2zM549.7 321.3h9.2v9.2h-9.2zM554.4 321.3h9.2v9.2h-9.2zM559.2 321.3h9.2v9.2h-9.2zM563.9 320.2h9.2v9.2h-9.2zM568.7 320.2h9.2v9.2h-9.2zM573.4 320.2h9.2v9.2h-9.2zM578.1 320.2h9.2v9.2h-9.2zM582.9 320.0h9.2v9.2h-9.2zM587.6 319.9h9.2v9.2h-9.2zM592.3 319.7h9.2v9.2h-9.2zM597.1 319.5h9.2v9.2h-9.2zM601.8 319.3h9.2v9.2h-9.2zM606.5 319.2h9.2v9.2h-9.2zM611.3 317.3h9.2v9.2h-9.2zM616.0 317.3h9.2v9.2h-9.2zM620.7 317.3h9.2v9.2h-9.2zM625.5 312.3h9.2v9.2h-9.2zM630.2 312.6h9.2v9.2h-9.2zM635.0 312.6h9.2v9.2h-9.2zM639.7 313.5h9.2v9.2h-9.2zM644.4 314.5h9.2v9.2h-9.2zM649.2 314.5h9.2v9.2h-9.2zM653.9 310.3h9.2v9.2h-9.2zM658.6 308.8h9.2v9.2h-9.2zM663.4 307.4h9.2v9.2h-9.2zM668.1 306.4h9.2v9.2h-9.2zM672.8 305.4h9.2v9.2h-9.2zM677.6 304.5h9.2v9.2h-9.2zM682.3 303.5h9.2v9.2h-9.2zM687.1 300.6h9.2v9.2h-9.2zM691.8 297.7h9.2v9.2h-9.2zM696.5 292.0h9.2v9.2h-9.2zM701.3 290.2h9.2v9.2h-9.2zM706.0 288.3h9.2v9.2h-9.2zM710.7 286.4h9.2v9.2h-9.2zM715.5 284.1h9.2v9.2h-9.2zM720.2 279.9h9.2v9.2h-9.2zM724.9 276.2h9.2v9.2h-9.2zM729.7 274.3h9.2v9.2h-9.2zM734.4 272.6h9.2v9.2h-9.2zM739.1 271.1h9.2v9.2h-9.2zM743.9 269.6h9.2v9.2h-9.2zM748.6 268.1h9.2v9.2h-9.2zM753.4 266.4h9.2v9.2h-9.2zM758.1 264.0h9.2v9.2h-9.2zM762.8 260.7h9.2v9.2h-9.2zM767.6 257.9h9.2v9.2h-9.2zM772.3 257.0h9.2v9.2h-9.2zM777.0 255.7h9.2v9.2h-9.2zM781.8 254.2h9.2v9.2h-9.2zM786.5 251.5h9.2v9.2h-9.2zM791.2 248.2h9.2v9.2h-9.2zM796.0 247.0h9.2v9.2h-9.2zM800.7 246.6h9.2v9.2h-9.2zM805.5 245.1h9.2v9.2h-9.2zM810.2 243.2h9.2v9.2h-9.2zM814.9 243.5h9.2v9.2h-9.2zM819.7 244.4h9.2v9.2h-9.2zM824.4 245.4h9.2v9.2h-9.2zM829.1 246.3h9.2v9.2h-9.2zM833.9 242.7h9.2v9.2h-9.2zM838.6 238.5h9.2v9.2h-9.2zM843.3 236.2h9.2v9.2h-9.2zM848.1 234.1h9.2v9.2h-9.2zM852.8 232.8h9.2v9.2h-9.2zM857.5 231.7h9.2v9.2h-9.2zM862.3 229.0h9.2v9.2h-9.2zM867.0 225.6h9.2v9.2h-9.2zM871.8 221.2h9.2v9.2h-9.2zM876.5 216.2h9.2v9.2h-9.2zM881.2 213.0h9.2v9.2h-9.2zM886.0 211.1h9.2v9.2h-9.2zM890.7 209.7h9.2v9.2h-9.2zM895.4 208.2h9.2v9.2h-9.2zM900.2 207.2h9.2v9.2h-9.2zM904.9 197.0h9.2v9.2h-9.2z" fill="#C0504D"/><polyline points="66.5,378.2 71.2,376.3 76.0,374.5 80.7,373.7 85.4,373.7 90.2,373.7 94.9,373.7 99.7,373.7 104.4,373.7 109.1,373.7 113.9,373.7 118.6,373.7 123.3,373.7 128.1,373.7 132.8,373.7 137.5,373.7 142.3,373.7 147.0,373.7 151.7,374.6 156.5,375.5 161.2,378.6 166.0,382.9 170.7,383.0 175.4,383.1 180.2,383.2 184.9,381.6 189.6,381.7 194.4,381.8 199.1,381.8 203.8,387.1 208.6,387.1 213.3,387.1 218.1,387.1 222.8,386.0 227.5,387.9 232.3,387.9 237.0,388.0 241.7,388.1 246.5,388.1 251.2,386.3 255.9,387.9 260.7,388.5 265.4,389.2 270.1,389.1 274.9,389.0 279.6,388.9 284.4,387.0 289.1,386.0 293.8,385.9 298.6,385.8 303.3,385.7 308.0,385.6 312.8,385.5 317.5,383.9 322.2,380.8 327.0,380.3 331.7,379.7 336.5,379.2 341.2,379.1 345.9,378.9 350.7,378.7 355.4,378.7 360.1,378.7 364.9,378.7 369.6,378.6 374.3,378.5 379.1,377.0 383.8,375.5 388.5,375.3 393.3,375.2 398.0,375.1 402.8,374.9 407.5,374.8 412.2,372.4 417.0,371.9 421.7,371.4 426.4,370.3 431.2,369.3 435.9,368.2 440.6,368.6 445.4,368.9 450.1,369.3 454.9,369.3 459.6,369.3 464.3,369.3 469.1,367.6 473.8,365.9 478.5,365.9 483.3,365.9 488.0,365.9 492.7,365.9 497.5,365.9 502.2,365.9 506.9,365.9 511.7,362.5 516.4,362.0 521.2,361.4 525.9,361.8 530.6,362.1 535.4,362.5 540.1,362.4 544.8,362.3 549.6,362.2 554.3,362.1 559.0,362.0 563.8,361.9 568.5,361.8 573.3,360.8 578.0,359.9 582.7,359.9 587.5,361.7 592.2,364.6 596.9,364.6 601.7,364.6 606.4,364.6 611.1,363.8 615.9,362.5 620.6,362.5 625.3,362.5 630.1,362.5 634.8,362.5 639.6,362.8 644.3,363.2 649.0,363.5 653.8,363.9 658.5,365.0 663.2,366.9 668.0,366.7 672.7,366.4 677.4,364.3 682.2,362.2 686.9,360.1 691.7,357.9 696.4,355.6 701.1,352.6 705.9,351.0 710.6,351.0 715.3,351.0 720.1,348.9 724.8,343.6 729.5,336.4 734.3,336.2 739.0,336.5 743.7,335.0 748.5,332.1 753.2,329.2 758.0,327.1 762.7,326.9 767.4,323.5 772.2,321.1 776.9,319.3 781.6,319.4 786.4,320.7 791.1,320.9 795.8,320.5 800.6,320.4 805.3,320.4 810.1,319.7 814.8,318.7 819.5,318.8 824.3,319.2 829.0,318.2 833.7,316.8 838.5,315.1 843.2,313.2 847.9,313.8 852.7,314.6 857.4,314.6 862.1,314.6 866.9,312.8 871.6,310.9 876.4,310.7 881.1,310.5 885.8,311.3 890.6,311.8 895.3,309.8 900.0,307.9 904.8,306.2 909.5,304.4" fill="none" stroke="#9BBB59" stroke-width="3" stroke-linejoin="round"/><path d="M66.5 373.0l5 9.2h-10zM71.2 371.1l5 9.2h-10zM76.0 369.3l5 9.2h-10zM80.7 368.5l5 9.2h-10zM85.4 368.5l5 9.2h-10zM90.2 368.5l5 9.2h-10zM94.9 368.5l5 9.2h-10zM99.7 368.5l5 9.2h-10zM104.4 368.5l5 9.2h-10zM109.1 368.5l5 9.2h-10zM113.9 368.5l5 9.2h-10zM118.6 368.5l5 9.2h-10zM123.3 368.5l5 9.2h-10zM128.1 368.5l5 9.2h-10zM132.8 368.5l5 9.2h-10zM137.5 368.5l5 9.2h-10zM142.3 368.5l5 9.2h-10zM147.0 368.5l5 9.2h-10zM151.7 369.4l5 9.2h-10zM156.5 370.3l5 9.2h-10zM161.2 373.4l5 9.2h-10zM166.0 377.7l5 9.2h-10zM170.7 377.8l5 9.2h-10zM175.4 377.9l5 9.2h-10zM180.2 378.0l5 9.2h-10zM184.9 376.4l5 9.2h-10zM189.6 376.5l5 9.2h-10zM194.4 376.6l5 9.2h-10zM199.1 376.6l5 9.2h-10zM203.8 381.9l5 9.2h-10zM208.6 381.9l5 9.2h-10zM213.3 381.9l5 9.2h-10zM218.1 381.9l5 9.2h-10zM222.8 380.8l5 9.2h-10zM227.5 382.7l5 9.2h-10zM232.3 382.7l5 9.2h-10zM237.0 382.8l5 9.2h-10zM241.7 382.9l5 9.2h-10zM246.5 382.9l5 9.2h-10zM251.2 381.1l5 9.2h-10zM255.9 382.7l5 9.2h-10zM260.7 383.3l5 9.2h-10zM265.4 384.0l5 9.2h-10zM270.1 383.9l5 9.2h-10zM274.9 383.8l5 9.2h-10zM279.6 383.7l5 9.2h-10zM284.4 381.8l5 9.2h-10zM289.1 380.8l5 9.2h-10zM293.8 380.7l5 9.2h-10zM298.6 380.6l5 9.2h-10zM303.3 380.5l5 9.2h-10zM308.0 380.4l5 9.2h-10zM312.8 380.3l5 9.2h-10zM317.5 378.7l5 9.2h-10zM322.2 375.6l5 9.2h-10zM327.0 375.1l5 9.2h-10zM331.7 374.5l5 9.2h-10zM336.5 374.0l5 9.2h-10zM341.2 373.9l5 9.2h-10zM345.9 373.7l5 9.2h-10zM350.7 373.5l5 9.2h-10zM355.4 373.5l5 9.2h-10zM360.1 373.5l5 9.2h-10zM364.9 373.5l5 9.2h-10zM369.6 373.4l5 9.2h-10zM374.3 373.3l5 9.2h-10zM379.1 371.8l5 9.2h-10zM383.8 370.3l5 9.2h-10zM388.5 370.1l5 9.2h-10zM393.3 370.0l5 9.2h-10zM398.0 369.9l5 9.2h-10zM402.8 369.7l5 9.2h-10zM407.5 369.6l5 9.2h-10zM412.2 367.2l5 9.2h-10zM417.0 366.7l5 9.2h-10zM421.7 366.2l5 9.2h-10zM426.4 365.1l5 9.2h-10zM431.2 364.1l5 9.2h-10zM435.9 363.0l5 9.2h-10zM440.6 363.4l5 9.2h-10zM445.4 363.7l5 9.2h-10zM450.1 364.1l5 9.2h-10zM454.9 364.1l5 9.2h-10zM459.6 364.1l5 9.2h-10zM464.3 364.1l5 9.2h-10zM469.1 362.4l5 9.2h-10zM473.8 360.7l5 9.2h-10zM478.5 360.7l5 9.2h-10zM483.3 360.7l5 9.2h-10zM488.0 360.7l5 9.2h-10zM492.7 360.7l5 9.2h-10zM497.5 360.7l5 9.2h-10zM502.2 360.7l5 9.2h-10zM506.9 360.7l5 9.2h-10zM511.7 357.3l5 9.2h-10zM516.4 356.8l5 9.2h-10zM521.2 356.2l5 9.2h-10zM525.9 356.6l5 9.2h-10zM530.6 356.9l5 9.2h-10zM535.4 357.3l5 9.2h-10zM540.1 357.2l5 9.2h-10zM544.8 357.1l5 9.2h-10zM549.6 357.0l5 9.2h-10zM554.3 356.9l5 9.2h-10zM559.0 356.8l5 9.2h-10zM563.8 356.7l5 9.2h-10zM568.5 356.6l5 9.2h-10zM573.3 355.6l5 9.2h-10zM578.0 354.7l5 9.2h-10zM582.7 354.7l5 9.2h-10zM587.5 356.5l5 9.2h-10zM592.2 359.4l5 9.2h-10zM596.9 359.4l5 9.2h-10zM601.7 359.4l5 9.2h-10zM606.4 359.4l5 9.2h-10zM611.1 358.6l5 9.2h-10zM615.9 357.3l5 9.2h-10zM620.6 357.3l5 9.2h-10zM625.3 357.3l5 9.2h-10zM630.1 357.3l5 9.2h-10zM634.8 357.3l5 9.2h-10zM639.6 357.6l5 9.2h-10zM644.3 358.0l5 9.2h-10zM649.0 358.3l5 9.2h-10zM653.8 358.7l5 9.2h-10zM658.5 359.8l5 9.2h-10zM663.2 361.7l5 9.2h-10zM668.0 361.5l5 9.2h-10zM672.7 361.2l5 9.2h-10zM677.4 359.1l5 9.2h-10zM682.2 357.0l5 9.2h-10zM686.9 354.9l5 9.2h-10zM691.7 352.7l5 9.2h-10zM696.4 350.4l5 9.2h-10zM701.1 347.4l5 9.2h-10zM705.9 345.8l5 9.2h-10zM710.6 345.8l5 9.2h-10zM715.3 345.8l5 9.2h-10zM720.1 343.7l5 9.2h-10zM724.8 338.4l5 9.2h-10zM729.5 331.2l5 9.2h-10zM734.3 331.0l5 9.2h-10zM739.0 331.3l5 9.2h-10zM743.7 329.8l5 9.2h-10zM748.5 326.9l5 9.2h-10zM753.2 324.0l5 9.2h-10zM758.0 321.9l5 9.2h-10zM762.7 321.7l5 9.2h-10zM767.4 318.3l5 9.2h-10zM772.2 315.9l5 9.2h-10zM776.9 314.1l5 9.2h-10zM781.6 314.2l5 9.2h-10zM786.4 315.5l5 9.2h-10zM791.1 315.7l5 9.2h-10zM795.8 315.3l5 9.2h-10zM800.6 315.2l5 9.2h-10zM805.3 315.2l5 9.2h-10zM810.1 314.5l5 9.2h-10zM814.8 313.5l5 9.2h-10zM819.5 313.6l5 9.2h-10zM824.3 314.0l5 9.2h-10zM829.0 313.0l5 9.2h-10zM833.7 311.6l5 9.2h-10zM838.5 309.9l5 9.2h-10zM843.2 308.0l5 9.2h-10zM847.9 308.6l5 9.2h-10zM852.7 309.4l5 9.2h-10zM857.4 309.4l5 9.2h-10zM862.1 309.4l5 9.2h-10zM866.9 307.6l5 9.2h-10zM871.6 305.7l5 9.2h-10zM876.4 305.5l5 9.2h-10zM881.1 305.3l5 9.2h-10zM885.8 306.1l5 9.2h-10zM890.6 306.6l5 9.2h-10zM895.3 304.6l5 9.2h-10zM900.0 302.7l5 9.2h-10zM904.8 301.0l5 9.2h-10zM909.5 299.2l5 9.2h-10z" fill="#9BBB59"/><polyline points="66.5,398.6 71.2,396.9 76.0,395.2 80.7,397.4 85.4,399.6 90.2,397.9 94.9,396.2 99.7,395.3 104.4,394.4 109.1,393.9 113.9,393.4 118.6,395.0 123.3,396.1 128.1,395.2 132.8,394.6 137.5,396.3 142.3,397.7 147.0,397.5 151.7,400.2 156.5,403.2 161.2,405.4 166.0,404.3 170.7,408.3 175.4,410.9 180.2,408.4 184.9,405.9 189.6,407.7 194.4,411.4 199.1,415.1 203.8,414.0 208.6,412.1 213.3,414.4 218.1,413.3 222.8,411.4 227.5,409.5 232.3,412.6 237.0,416.3 241.7,420.0 246.5,420.6 251.2,421.1 255.9,424.0 260.7,426.8 265.4,423.5 270.1,420.1 274.9,416.8 279.6,413.8 284.4,414.4 289.1,415.1 293.8,416.6 298.6,416.4 303.3,416.3 308.0,417.8 312.8,416.7 317.5,415.3 322.2,416.2 327.0,417.5 331.7,419.8 336.5,418.6 341.2,417.1 345.9,417.2 350.7,417.1 355.4,415.4 360.1,413.7 364.9,412.5 369.6,415.3 374.3,418.0 379.1,420.8 383.8,417.7 388.5,414.6 393.3,411.5 398.0,408.4 402.8,408.4 407.5,409.2 412.2,410.0 417.0,410.4 421.7,409.6 426.4,408.8 431.2,409.1 435.9,409.4 440.6,407.4 445.4,405.4 450.1,403.8 454.9,405.6 459.6,407.5 464.3,405.6 469.1,403.6 473.8,401.7 478.5,402.6 483.3,403.5 488.0,403.6 492.7,403.2 497.5,402.2 502.2,397.3 506.9,395.6 511.7,395.5 516.4,399.1 521.2,396.7 525.9,397.7 530.6,399.4 535.4,400.5 540.1,400.9 544.8,400.7 549.6,401.7 554.3,403.1 559.0,404.6 563.8,405.7 568.5,403.5 573.3,401.3 578.0,399.1 582.7,398.3 587.5,401.0 592.2,403.7 596.9,405.6 601.7,404.0 606.4,402.4 611.1,402.1 615.9,402.7 620.6,403.3 625.3,400.7 630.1,398.1 634.8,397.7 639.6,397.3 644.3,397.4 649.0,401.2 653.8,405.0 658.5,408.8 663.2,405.9 668.0,403.1 672.7,401.4 677.4,399.8 682.2,397.3 686.9,393.0 691.7,389.9 696.4,388.5 701.1,390.4 705.9,391.5 710.6,389.4 715.3,385.1 720.1,380.8 724.8,378.7 729.5,380.1 734.3,378.6 739.0,376.8 743.7,375.0 748.5,376.1 753.2,374.2 758.0,369.5 762.7,364.7 767.4,360.5 772.2,361.5 776.9,362.5 781.6,362.7 786.4,360.9 791.1,359.4 795.8,357.9 800.6,354.9 805.3,351.1 810.1,351.0 814.8,352.5 819.5,352.8 824.3,352.8 829.0,352.5 833.7,352.1 838.5,347.0 843.2,341.3 847.9,348.7 852.7,357.5 857.4,357.0 862.1,356.5 866.9,356.5 871.6,356.5 876.4,355.5 881.1,354.3 885.8,351.0 890.6,347.9 895.3,345.5 900.0,343.6 904.8,345.4 909.5,347.3" fill="none" stroke="#8064A2" stroke-width="2.5" stroke-linejoin="round"/><path d="M62.0 394.1l9 9M71.0 394.1l-9 9M66.7 392.4l9 9M75.7 392.4l-9 9M71.5 390.7l9 9M80.5 390.7l-9 9M76.2 392.9l9 9M85.2 392.9l-9 9M80.9 395.1l9 9M89.9 395.1l-9 9M85.7 393.4l9 9M94.7 393.4l-9 9M90.4 391.7l9 9M99.4 391.7l-9 9M95.2 390.8l9 9M104.2 390.8l-9 9M99.9 389.9l9 9M108.9 389.9l-9 9M104.6 389.4l9 9M113.6 389.4l-9 9M109.4 388.9l9 9M118.4 388.9l-9 9M114.1 390.5l9 9M123.1 390.5l-9 9M118.8 391.6l9 9M127.8 391.6l-9 9M123.6 390.7l9 9M132.6 390.7l-9 9M128.3 390.1l9 9M137.3 390.1l-9 9M133.0 391.8l9 9M142.0 391.8l-9 9M137.8 393.2l9 9M146.8 393.2l-9 9M142.5 393.0l9 9M151.5 393.0l-9 9M147.2 395.7l9 9M156.2 395.7l-9 9M152.0 398.7l9 9M161.0 398.7l-9 9M156.7 400.9l9 9M165.7 400.9l-9 9M161.5 399.8l9 9M170.5 399.8l-9 9M166.2 403.8l9 9M175.2 403.8l-9 9M170.9 406.4l9 9M179.9 406.4l-9 9M175.7 403.9l9 9M184.7 403.9l-9 9M180.4 401.4l9 9M189.4 401.4l-9 9M185.1 403.2l9 9M194.1 403.2l-9 9M189.9 406.9l9 9M198.9 406.9l-9 9M194.6 410.6l9 9M203.6 410.6l-9 9M199.3 409.5l9 9M208.3 409.5l-9 9M204.1 407.6l9 9M213.1 407.6l-9 9M208.8 409.9l9 9M217.8 409.9l-9 9M213.6 408.8l9 9M222.6 408.8l-9 9M218.3 406.9l9 9M227.3 406.9l-9 9M223.0 405.0l9 9M232.0 405.0l-9 9M227.8 408.1l9 9M236.8 408.1l-9 9M232.5 411.8l9 9M241.5 411.8l-9 9M237.2 415.5l9 9M246.2 415.5l-9 9M242.0 416.1l9 9M251.0 416.1l-9 9M246.7 416.6l9 9M255.7 416.6l-9 9M251.4 419.5l9 9M260.4 419.5l-9 9M256.2 422.3l9 9M265.2 422.3l-9 9M260.9 419.0l9 9M269.9 419.0l-9 9M265.6 415.6l9 9M274.6 415.6l-9 9M270.4 412.3l9 9M279.4 412.3l-9 9M275.1 409.3l9 9M284.1 409.3l-9 9M279.9 409.9l9 9M288.9 409.9l-9 9M284.6 410.6l9 9M293.6 410.6l-9 9M289.3 412.1l9 9M298.3 412.1l-9 9M294.1 411.9l9 9M303.1 411.9l-9 9M298.8 411.8l9 9M307.8 411.8l-9 9M303.5 413.3l9 9M312.5 413.3l-9 9M308.3 412.2l9 9M317.3 412.2l-9 9M313.0 410.8l9 9M322.0 410.8l-9 9M317.7 411.7l9 9M326.7 411.7l-9 9M322.5 413.0l9 9M331.5 413.0l-9 9M327.2 415.3l9 9M336.2 415.3l-9 9M332.0 414.1l9 9M341.0 414.1l-9 9M336.7 412.6l9 9M345.7 412.6l-9 9M341.4 412.7l9 9M350.4 412.7l-9 9M346.2 412.6l9 9M355.2 412.6l-9 9M350.9 410.9l9 9M359.9 410.9l-9 9M355.6 409.2l9 9M364.6 409.2l-9 9M360.4 408.0l9 9M369.4 408.0l-9 9M365.1 410.8l9 9M374.1 410.8l-9 9M369.8 413.5l9 9M378.8 413.5l-9 9M374.6 416.3l9 9M383.6 416.3l-9 9M379.3 413.2l9 9M388.3 413.2l-9 9M384.0 410.1l9 9M393.0 410.1l-9 9M388.8 407.0l9 9M397.8 407.0l-9 9M393.5 403.9l9 9M402.5 403.9l-9 9M398.3 403.9l9 9M407.3 403.9l-9 9M403.0 404.7l9 9M412.0 404.7l-9 9M407.7 405.5l9 9M416.7 405.5l-9 9M412.5 405.9l9 9M421.5 405.9l-9 9M417.2 405.1l9 9M426.2 405.1l-9 9M421.9 404.3l9 9M430.9 404.3l-9 9M426.7 404.6l9 9M435.7 404.6l-9 9M431.4 404.9l9 9M440.4 404.9l-9 9M436.1 402.9l9 9M445.1 402.9l-9 9M440.9 400.9l9 9M449.9 400.9l-9 9M445.6 399.3l9 9M454.6 399.3l-9 9M450.4 401.1l9 9M459.4 401.1l-9 9M455.1 403.0l9 9M464.1 403.0l-9 9M459.8 401.1l9 9M468.8 401.1l-9 9M464.6 399.1l9 9M473.6 399.1l-9 9M469.3 397.2l9 9M478.3 397.2l-9 9M474.0 398.1l9 9M483.0 398.1l-9 9M478.8 399.0l9 9M487.8 399.0l-9 9M483.5 399.1l9 9M492.5 399.1l-9 9M488.2 398.7l9 9M497.2 398.7l-9 9M493.0 397.7l9 9M502.0 397.7l-9 9M497.7 392.8l9 9M506.7 392.8l-9 9M502.4 391.1l9 9M511.4 391.1l-9 9M507.2 391.0l9 9M516.2 391.0l-9 9M511.9 394.6l9 9M520.9 394.6l-9 9M516.7 392.2l9 9M525.7 392.2l-9 9M521.4 393.2l9 9M530.4 393.2l-9 9M526.1 394.9l9 9M535.1 394.9l-9 9M530.9 396.0l9 9M539.9 396.0l-9 9M535.6 396.4l9 9M544.6 396.4l-9 9M540.3 396.2l9 9M549.3 396.2l-9 9M545.1 397.2l9 9M554.1 397.2l-9 9M549.8 398.6l9 9M558.8 398.6l-9 9M554.5 400.1l9 9M563.5 400.1l-9 9M559.3 401.2l9 9M568.3 401.2l-9 9M564.0 399.0l9 9M573.0 399.0l-9 9M568.8 396.8l9 9M577.8 396.8l-9 9M573.5 394.6l9 9M582.5 394.6l-9 9M578.2 393.8l9 9M587.2 393.8l-9 9M583.0 396.5l9 9M592.0 396.5l-9 9M587.7 399.2l9 9M596.7 399.2l-9 9M592.4 401.1l9 9M601.4 401.1l-9 9M597.2 399.5l9 9M606.2 399.5l-9 9M601.9 397.9l9 9M610.9 397.9l-9 9M606.6 397.6l9 9M615.6 397.6l-9 9M611.4 398.2l9 9M620.4 398.2l-9 9M616.1 398.8l9 9M625.1 398.8l-9 9M620.8 396.2l9 9M629.8 396.2l-9 9M625.6 393.6l9 9M634.6 393.6l-9 9M630.3 393.2l9 9M639.3 393.2l-9 9M635.1 392.8l9 9M644.1 392.8l-9 9M639.8 392.9l9 9M648.8 392.9l-9 9M644.5 396.7l9 9M653.5 396.7l-9 9M649.3 400.5l9 9M658.3 400.5l-9 9M654.0 404.3l9 9M663.0 404.3l-9 9M658.7 401.4l9 9M667.7 401.4l-9 9M663.5 398.6l9 9M672.5 398.6l-9 9M668.2 396.9l9 9M677.2 396.9l-9 9M672.9 395.3l9 9M681.9 395.3l-9 9M677.7 392.8l9 9M686.7 392.8l-9 9M682.4 388.5l9 9M691.4 388.5l-9 9M687.2 385.4l9 9M696.2 385.4l-9 9M691.9 384.0l9 9M700.9 384.0l-9 9M696.6 385.9l9 9M705.6 385.9l-9 9M701.4 387.0l9 9M710.4 387.0l-9 9M706.1 384.9l9 9M715.1 384.9l-9 9M710.8 380.6l9 9M719.8 380.6l-9 9M715.6 376.3l9 9M724.6 376.3l-9 9M720.3 374.2l9 9M729.3 374.2l-9 9M725.0 375.6l9 9M734.0 375.6l-9 9M729.8 374.1l9 9M738.8 374.1l-9 9M734.5 372.3l9 9M743.5 372.3l-9 9M739.2 370.5l9 9M748.2 370.5l-9 9M744.0 371.6l9 9M753.0 371.6l-9 9M748.7 369.7l9 9M757.7 369.7l-9 9M753.5 365.0l9 9M762.5 365.0l-9 9M758.2 360.2l9 9M767.2 360.2l-9 9M762.9 356.0l9 9M771.9 356.0l-9 9M767.7 357.0l9 9M776.7 357.0l-9 9M772.4 358.0l9 9M781.4 358.0l-9 9M777.1 358.2l9 9M786.1 358.2l-9 9M781.9 356.4l9 9M790.9 356.4l-9 9M786.6 354.9l9 9M795.6 354.9l-9 9M791.3 353.4l9 9M800.3 353.4l-9 9M796.1 350.4l9 9M805.1 350.4l-9 9M800.8 346.6l9 9M809.8 346.6l-9 9M805.6 346.5l9 9M814.6 346.5l-9 9M810.3 348.0l9 9M819.3 348.0l-9 9M815.0 348.3l9 9M824.0 348.3l-9 9M819.8 348.3l9 9M828.8 348.3l-9 9M824.5 348.0l9 9M833.5 348.0l-9 9M829.2 347.6l9 9M838.2 347.6l-9 9M834.0 342.5l9 9M843.0 342.5l-9 9M838.7 336.8l9 9M847.7 336.8l-9 9M843.4 344.2l9 9M852.4 344.2l-9 9M848.2 353.0l9 9M857.2 353.0l-9 9M852.9 352.5l9 9M861.9 352.5l-9 9M857.6 352.0l9 9M866.6 352.0l-9 9M862.4 352.0l9 9M871.4 352.0l-9 9M867.1 352.0l9 9M876.1 352.0l-9 9M871.9 351.0l9 9M880.9 351.0l-9 9M876.6 349.8l9 9M885.6 349.8l-9 9M881.3 346.5l9 9M890.3 346.5l-9 9M886.1 343.4l9 9M895.1 343.4l-9 9M890.8 341.0l9 9M899.8 341.0l-9 9M895.5 339.1l9 9M904.5 339.1l-9 9M900.3 340.9l9 9M909.3 340.9l-9 9M905.0 342.8l9 9M914.0 342.8l-9 9" fill="none" stroke="#8064A2" stroke-width="1.1" opacity="0.55"/><polyline points="66.5,405.9 71.2,404.2 76.0,402.5 80.7,402.2 85.4,402.0 90.2,400.8 94.9,399.6 99.7,398.7 104.4,397.8 109.1,397.3 113.9,396.8 118.6,397.0 123.3,397.3 128.1,398.8 132.8,402.1 137.5,405.0 142.3,405.9 147.0,401.5 151.7,400.9 156.5,401.3 161.2,401.4 166.0,401.2 170.7,405.3 175.4,408.6 180.2,409.0 184.9,409.5 189.6,411.4 194.4,413.2 199.1,414.2 203.8,415.2 208.6,415.9 213.3,416.5 218.1,416.4 222.8,416.2 227.5,416.5 232.3,417.0 237.0,416.5 241.7,415.7 246.5,416.3 251.2,416.5 255.9,413.6 260.7,410.6 265.4,408.4 270.1,409.4 274.9,410.3 279.6,411.0 284.4,409.6 289.1,412.3 293.8,415.1 298.6,413.8 303.3,412.5 308.0,411.3 312.8,410.4 317.5,409.5 322.2,408.2 327.0,406.8 331.7,407.4 336.5,410.3 341.2,409.9 345.9,409.6 350.7,408.7 355.4,405.9 360.1,403.0 364.9,400.7 369.6,404.0 374.3,407.2 379.1,404.7 383.8,402.2 388.5,402.5 393.3,402.7 398.0,403.0 402.8,402.4 407.5,401.5 412.2,400.7 417.0,397.9 421.7,399.2 426.4,400.4 431.2,405.4 435.9,401.8 440.6,396.9 445.4,391.8 450.1,394.2 454.9,396.7 459.6,399.1 464.3,396.9 469.1,394.6 473.8,393.8 478.5,394.0 483.3,396.0 488.0,398.1 492.7,400.2 497.5,397.4 502.2,394.6 506.9,391.9 511.7,390.3 516.4,391.7 521.2,393.0 525.9,394.3 530.6,395.7 535.4,395.8 540.1,395.2 544.8,395.0 549.6,394.8 554.3,393.4 559.0,391.6 563.8,394.6 568.5,394.0 573.3,395.6 578.0,391.3 582.7,391.3 587.5,391.3 592.2,391.3 596.9,391.5 601.7,392.7 606.4,395.0 611.1,397.7 615.9,395.3 620.6,399.9 625.3,396.1 630.1,391.7 634.8,386.1 639.6,383.6 644.3,382.4 649.0,385.7 653.8,389.0 658.5,392.3 663.2,391.2 668.0,390.1 672.7,389.0 677.4,387.1 682.2,387.8 686.9,388.6 691.7,389.3 696.4,389.6 701.1,388.1 705.9,381.8 710.6,375.8 715.3,375.0 720.1,374.2 724.8,370.7 729.5,363.2 734.3,361.1 739.0,359.5 743.7,358.0 748.5,354.6 753.2,350.5 758.0,349.3 762.7,348.9 767.4,348.5 772.2,347.9 776.9,345.5 781.6,344.2 786.4,345.0 791.1,345.2 795.8,345.2 800.6,344.9 805.3,344.6 810.1,344.0 814.8,343.5 819.5,345.0 824.3,346.9 829.0,346.1 833.7,344.6 838.5,342.3 843.2,340.0 847.9,343.3 852.7,347.3 857.4,346.8 862.1,346.3 866.9,345.3 871.6,344.4 876.4,345.4 881.1,346.1 885.8,344.3 890.6,342.2 895.3,338.6 900.0,335.3 904.8,335.3 909.5,335.3" fill="none" stroke="#4BACC6" stroke-width="2.8" stroke-linejoin="round"/><path d="M62.3 401.7l8.4 8.4M70.7 401.7l-8.4 8.4M66.5 400.9v10M67.0 400.0l8.4 8.4M75.4 400.0l-8.4 8.4M71.2 399.2v10M71.8 398.3l8.4 8.4M80.2 398.3l-8.4 8.4M76.0 397.5v10M76.5 398.0l8.4 8.4M84.9 398.0l-8.4 8.4M80.7 397.2v10M81.2 397.8l8.4 8.4M89.6 397.8l-8.4 8.4M85.4 397.0v10M86.0 396.6l8.4 8.4M94.4 396.6l-8.4 8.4M90.2 395.8v10M90.7 395.4l8.4 8.4M99.1 395.4l-8.4 8.4M94.9 394.6v10M95.5 394.5l8.4 8.4M103.9 394.5l-8.4 8.4M99.7 393.7v10M100.2 393.6l8.4 8.4M108.6 393.6l-8.4 8.4M104.4 392.8v10M104.9 393.1l8.4 8.4M113.3 393.1l-8.4 8.4M109.1 392.3v10M109.7 392.6l8.4 8.4M118.1 392.6l-8.4 8.4M113.9 391.8v10M114.4 392.8l8.4 8.4M122.8 392.8l-8.4 8.4M118.6 392.0v10M119.1 393.1l8.4 8.4M127.5 393.1l-8.4 8.4M123.3 392.3v10M123.9 394.6l8.4 8.4M132.3 394.6l-8.4 8.4M128.1 393.8v10M128.6 397.9l8.4 8.4M137.0 397.9l-8.4 8.4M132.8 397.1v10M133.3 400.8l8.4 8.4M141.7 400.8l-8.4 8.4M137.5 400.0v10M138.1 401.7l8.4 8.4M146.5 401.7l-8.4 8.4M142.3 400.9v10M142.8 397.3l8.4 8.4M151.2 397.3l-8.4 8.4M147.0 396.5v10M147.5 396.7l8.4 8.4M155.9 396.7l-8.4 8.4M151.7 395.9v10M152.3 397.1l8.4 8.4M160.7 397.1l-8.4 8.4M156.5 396.3v10M157.0 397.2l8.4 8.4M165.4 397.2l-8.4 8.4M161.2 396.4v10M161.8 397.0l8.4 8.4M170.2 397.0l-8.4 8.4M166.0 396.2v10M166.5 401.1l8.4 8.4M174.9 401.1l-8.4 8.4M170.7 400.3v10M171.2 404.4l8.4 8.4M179.6 404.4l-8.4 8.4M175.4 403.6v10M176.0 404.8l8.4 8.4M184.4 404.8l-8.4 8.4M180.2 404.0v10M180.7 405.3l8.4 8.4M189.1 405.3l-8.4 8.4M184.9 404.5v10M185.4 407.2l8.4 8.4M193.8 407.2l-8.4 8.4M189.6 406.4v10M190.2 409.0l8.4 8.4M198.6 409.0l-8.4 8.4M194.4 408.2v10M194.9 410.0l8.4 8.4M203.3 410.0l-8.4 8.4M199.1 409.2v10M199.6 411.0l8.4 8.4M208.0 411.0l-8.4 8.4M203.8 410.2v10M204.4 411.7l8.4 8.4M212.8 411.7l-8.4 8.4M208.6 410.9v10M209.1 412.3l8.4 8.4M217.5 412.3l-8.4 8.4M213.3 411.5v10M213.9 412.2l8.4 8.4M222.3 412.2l-8.4 8.4M218.1 411.4v10M218.6 412.0l8.4 8.4M227.0 412.0l-8.4 8.4M222.8 411.2v10M223.3 412.3l8.4 8.4M231.7 412.3l-8.4 8.4M227.5 411.5v10M228.1 412.8l8.4 8.4M236.5 412.8l-8.4 8.4M232.3 412.0v10M232.8 412.3l8.4 8.4M241.2 412.3l-8.4 8.4M237.0 411.5v10M237.5 411.5l8.4 8.4M245.9 411.5l-8.4 8.4M241.7 410.7v10M242.3 412.1l8.4 8.4M250.7 412.1l-8.4 8.4M246.5 411.3v10M247.0 412.3l8.4 8.4M255.4 412.3l-8.4 8.4M251.2 411.5v10M251.7 409.4l8.4 8.4M260.1 409.4l-8.4 8.4M255.9 408.6v10M256.5 406.4l8.4 8.4M264.9 406.4l-8.4 8.4M260.7 405.6v10M261.2 404.2l8.4 8.4M269.6 404.2l-8.4 8.4M265.4 403.4v10M265.9 405.2l8.4 8.4M274.3 405.2l-8.4 8.4M270.1 404.4v10M270.7 406.1l8.4 8.4M279.1 406.1l-8.4 8.4M274.9 405.3v10M275.4 406.8l8.4 8.4M283.8 406.8l-8.4 8.4M279.6 406.0v10M280.2 405.4l8.4 8.4M288.6 405.4l-8.4 8.4M284.4 404.6v10M284.9 408.1l8.4 8.4M293.3 408.1l-8.4 8.4M289.1 407.3v10M289.6 410.9l8.4 8.4M298.0 410.9l-8.4 8.4M293.8 410.1v10M294.4 409.6l8.4 8.4M302.8 409.6l-8.4 8.4M298.6 408.8v10M299.1 408.3l8.4 8.4M307.5 408.3l-8.4 8.4M303.3 407.5v10M303.8 407.1l8.4 8.4M312.2 407.1l-8.4 8.4M308.0 406.3v10M308.6 406.2l8.4 8.4M317.0 406.2l-8.4 8.4M312.8 405.4v10M313.3 405.3l8.4 8.4M321.7 405.3l-8.4 8.4M317.5 404.5v10M318.0 404.0l8.4 8.4M326.4 404.0l-8.4 8.4M322.2 403.2v10M322.8 402.6l8.4 8.4M331.2 402.6l-8.4 8.4M327.0 401.8v10M327.5 403.2l8.4 8.4M335.9 403.2l-8.4 8.4M331.7 402.4v10M332.3 406.1l8.4 8.4M340.7 406.1l-8.4 8.4M336.5 405.3v10M337.0 405.7l8.4 8.4M345.4 405.7l-8.4 8.4M341.2 404.9v10M341.7 405.4l8.4 8.4M350.1 405.4l-8.4 8.4M345.9 404.6v10M346.5 404.5l8.4 8.4M354.9 404.5l-8.4 8.4M350.7 403.7v10M351.2 401.7l8.4 8.4M359.6 401.7l-8.4 8.4M355.4 400.9v10M355.9 398.8l8.4 8.4M364.3 398.8l-8.4 8.4M360.1 398.0v10M360.7 396.5l8.4 8.4M369.1 396.5l-8.4 8.4M364.9 395.7v10M365.4 399.8l8.4 8.4M373.8 399.8l-8.4 8.4M369.6 399.0v10M370.1 403.0l8.4 8.4M378.5 403.0l-8.4 8.4M374.3 402.2v10M374.9 400.5l8.4 8.4M383.3 400.5l-8.4 8.4M379.1 399.7v10M379.6 398.0l8.4 8.4M388.0 398.0l-8.4 8.4M383.8 397.2v10M384.3 398.3l8.4 8.4M392.7 398.3l-8.4 8.4M388.5 397.5v10M389.1 398.5l8.4 8.4M397.5 398.5l-8.4 8.4M393.3 397.7v10M393.8 398.8l8.4 8.4M402.2 398.8l-8.4 8.4M398.0 398.0v10M398.6 398.2l8.4 8.4M407.0 398.2l-8.4 8.4M402.8 397.4v10M403.3 397.3l8.4 8.4M411.7 397.3l-8.4 8.4M407.5 396.5v10M408.0 396.5l8.4 8.4M416.4 396.5l-8.4 8.4M412.2 395.7v10M412.8 393.7l8.4 8.4M421.2 393.7l-8.4 8.4M417.0 392.9v10M417.5 395.0l8.4 8.4M425.9 395.0l-8.4 8.4M421.7 394.2v10M422.2 396.2l8.4 8.4M430.6 396.2l-8.4 8.4M426.4 395.4v10M427.0 401.2l8.4 8.4M435.4 401.2l-8.4 8.4M431.2 400.4v10M431.7 397.6l8.4 8.4M440.1 397.6l-8.4 8.4M435.9 396.8v10M436.4 392.7l8.4 8.4M444.8 392.7l-8.4 8.4M440.6 391.9v10M441.2 387.6l8.4 8.4M449.6 387.6l-8.4 8.4M445.4 386.8v10M445.9 390.0l8.4 8.4M454.3 390.0l-8.4 8.4M450.1 389.2v10M450.7 392.5l8.4 8.4M459.1 392.5l-8.4 8.4M454.9 391.7v10M455.4 394.9l8.4 8.4M463.8 394.9l-8.4 8.4M459.6 394.1v10M460.1 392.7l8.4 8.4M468.5 392.7l-8.4 8.4M464.3 391.9v10M464.9 390.4l8.4 8.4M473.3 390.4l-8.4 8.4M469.1 389.6v10M469.6 389.6l8.4 8.4M478.0 389.6l-8.4 8.4M473.8 388.8v10M474.3 389.8l8.4 8.4M482.7 389.8l-8.4 8.4M478.5 389.0v10M479.1 391.8l8.4 8.4M487.5 391.8l-8.4 8.4M483.3 391.0v10M483.8 393.9l8.4 8.4M492.2 393.9l-8.4 8.4M488.0 393.1v10M488.5 396.0l8.4 8.4M496.9 396.0l-8.4 8.4M492.7 395.2v10M493.3 393.2l8.4 8.4M501.7 393.2l-8.4 8.4M497.5 392.4v10M498.0 390.4l8.4 8.4M506.4 390.4l-8.4 8.4M502.2 389.6v10M502.7 387.7l8.4 8.4M511.1 387.7l-8.4 8.4M506.9 386.9v10M507.5 386.1l8.4 8.4M515.9 386.1l-8.4 8.4M511.7 385.3v10M512.2 387.5l8.4 8.4M520.6 387.5l-8.4 8.4M516.4 386.7v10M517.0 388.8l8.4 8.4M525.4 388.8l-8.4 8.4M521.2 388.0v10M521.7 390.1l8.4 8.4M530.1 390.1l-8.4 8.4M525.9 389.3v10M526.4 391.5l8.4 8.4M534.8 391.5l-8.4 8.4M530.6 390.7v10M531.2 391.6l8.4 8.4M539.6 391.6l-8.4 8.4M535.4 390.8v10M535.9 391.0l8.4 8.4M544.3 391.0l-8.4 8.4M540.1 390.2v10M540.6 390.8l8.4 8.4M549.0 390.8l-8.4 8.4M544.8 390.0v10M545.4 390.6l8.4 8.4M553.8 390.6l-8.4 8.4M549.6 389.8v10M550.1 389.2l8.4 8.4M558.5 389.2l-8.4 8.4M554.3 388.4v10M554.8 387.4l8.4 8.4M563.2 387.4l-8.4 8.4M559.0 386.6v10M559.6 390.4l8.4 8.4M568.0 390.4l-8.4 8.4M563.8 389.6v10M564.3 389.8l8.4 8.4M572.7 389.8l-8.4 8.4M568.5 389.0v10M569.1 391.4l8.4 8.4M577.5 391.4l-8.4 8.4M573.3 390.6v10M573.8 387.1l8.4 8.4M582.2 387.1l-8.4 8.4M578.0 386.3v10M578.5 387.1l8.4 8.4M586.9 387.1l-8.4 8.4M582.7 386.3v10M583.3 387.1l8.4 8.4M591.7 387.1l-8.4 8.4M587.5 386.3v10M588.0 387.1l8.4 8.4M596.4 387.1l-8.4 8.4M592.2 386.3v10M592.7 387.3l8.4 8.4M601.1 387.3l-8.4 8.4M596.9 386.5v10M597.5 388.5l8.4 8.4M605.9 388.5l-8.4 8.4M601.7 387.7v10M602.2 390.8l8.4 8.4M610.6 390.8l-8.4 8.4M606.4 390.0v10M606.9 393.5l8.4 8.4M615.3 393.5l-8.4 8.4M611.1 392.7v10M611.7 391.1l8.4 8.4M620.1 391.1l-8.4 8.4M615.9 390.3v10M616.4 395.7l8.4 8.4M624.8 395.7l-8.4 8.4M620.6 394.9v10M621.1 391.9l8.4 8.4M629.5 391.9l-8.4 8.4M625.3 391.1v10M625.9 387.5l8.4 8.4M634.3 387.5l-8.4 8.4M630.1 386.7v10M630.6 381.9l8.4 8.4M639.0 381.9l-8.4 8.4M634.8 381.1v10M635.4 379.4l8.4 8.4M643.8 379.4l-8.4 8.4M639.6 378.6v10M640.1 378.2l8.4 8.4M648.5 378.2l-8.4 8.4M644.3 377.4v10M644.8 381.5l8.4 8.4M653.2 381.5l-8.4 8.4M649.0 380.7v10M649.6 384.8l8.4 8.4M658.0 384.8l-8.4 8.4M653.8 384.0v10M654.3 388.1l8.4 8.4M662.7 388.1l-8.4 8.4M658.5 387.3v10M659.0 387.0l8.4 8.4M667.4 387.0l-8.4 8.4M663.2 386.2v10M663.8 385.9l8.4 8.4M672.2 385.9l-8.4 8.4M668.0 385.1v10M668.5 384.8l8.4 8.4M676.9 384.8l-8.4 8.4M672.7 384.0v10M673.2 382.9l8.4 8.4M681.6 382.9l-8.4 8.4M677.4 382.1v10M678.0 383.6l8.4 8.4M686.4 383.6l-8.4 8.4M682.2 382.8v10M682.7 384.4l8.4 8.4M691.1 384.4l-8.4 8.4M686.9 383.6v10M687.5 385.1l8.4 8.4M695.9 385.1l-8.4 8.4M691.7 384.3v10M692.2 385.4l8.4 8.4M700.6 385.4l-8.4 8.4M696.4 384.6v10M696.9 383.9l8.4 8.4M705.3 383.9l-8.4 8.4M701.1 383.1v10M701.7 377.6l8.4 8.4M710.1 377.6l-8.4 8.4M705.9 376.8v10M706.4 371.6l8.4 8.4M714.8 371.6l-8.4 8.4M710.6 370.8v10M711.1 370.8l8.4 8.4M719.5 370.8l-8.4 8.4M715.3 370.0v10M715.9 370.0l8.4 8.4M724.3 370.0l-8.4 8.4M720.1 369.2v10M720.6 366.5l8.4 8.4M729.0 366.5l-8.4 8.4M724.8 365.7v10M725.3 359.0l8.4 8.4M733.7 359.0l-8.4 8.4M729.5 358.2v10M730.1 356.9l8.4 8.4M738.5 356.9l-8.4 8.4M734.3 356.1v10M734.8 355.3l8.4 8.4M743.2 355.3l-8.4 8.4M739.0 354.5v10M739.5 353.8l8.4 8.4M747.9 353.8l-8.4 8.4M743.7 353.0v10M744.3 350.4l8.4 8.4M752.7 350.4l-8.4 8.4M748.5 349.6v10M749.0 346.3l8.4 8.4M757.4 346.3l-8.4 8.4M753.2 345.5v10M753.8 345.1l8.4 8.4M762.2 345.1l-8.4 8.4M758.0 344.3v10M758.5 344.7l8.4 8.4M766.9 344.7l-8.4 8.4M762.7 343.9v10M763.2 344.3l8.4 8.4M771.6 344.3l-8.4 8.4M767.4 343.5v10M768.0 343.7l8.4 8.4M776.4 343.7l-8.4 8.4M772.2 342.9v10M772.7 341.3l8.4 8.4M781.1 341.3l-8.4 8.4M776.9 340.5v10M777.4 340.0l8.4 8.4M785.8 340.0l-8.4 8.4M781.6 339.2v10M782.2 340.8l8.4 8.4M790.6 340.8l-8.4 8.4M786.4 340.0v10M786.9 341.0l8.4 8.4M795.3 341.0l-8.4 8.4M791.1 340.2v10M791.6 341.0l8.4 8.4M800.0 341.0l-8.4 8.4M795.8 340.2v10M796.4 340.7l8.4 8.4M804.8 340.7l-8.4 8.4M800.6 339.9v10M801.1 340.4l8.4 8.4M809.5 340.4l-8.4 8.4M805.3 339.6v10M805.9 339.8l8.4 8.4M814.3 339.8l-8.4 8.4M810.1 339.0v10M810.6 339.3l8.4 8.4M819.0 339.3l-8.4 8.4M814.8 338.5v10M815.3 340.8l8.4 8.4M823.7 340.8l-8.4 8.4M819.5 340.0v10M820.1 342.7l8.4 8.4M828.5 342.7l-8.4 8.4M824.3 341.9v10M824.8 341.9l8.4 8.4M833.2 341.9l-8.4 8.4M829.0 341.1v10M829.5 340.4l8.4 8.4M837.9 340.4l-8.4 8.4M833.7 339.6v10M834.3 338.1l8.4 8.4M842.7 338.1l-8.4 8.4M838.5 337.3v10M839.0 335.8l8.4 8.4M847.4 335.8l-8.4 8.4M843.2 335.0v10M843.7 339.1l8.4 8.4M852.1 339.1l-8.4 8.4M847.9 338.3v10M848.5 343.1l8.4 8.4M856.9 343.1l-8.4 8.4M852.7 342.3v10M853.2 342.6l8.4 8.4M861.6 342.6l-8.4 8.4M857.4 341.8v10M857.9 342.1l8.4 8.4M866.3 342.1l-8.4 8.4M862.1 341.3v10M862.7 341.1l8.4 8.4M871.1 341.1l-8.4 8.4M866.9 340.3v10M867.4 340.2l8.4 8.4M875.8 340.2l-8.4 8.4M871.6 339.4v10M872.2 341.2l8.4 8.4M880.6 341.2l-8.4 8.4M876.4 340.4v10M876.9 341.9l8.4 8.4M885.3 341.9l-8.4 8.4M881.1 341.1v10M881.6 340.1l8.4 8.4M890.0 340.1l-8.4 8.4M885.8 339.3v10M886.4 338.0l8.4 8.4M894.8 338.0l-8.4 8.4M890.6 337.2v10M891.1 334.4l8.4 8.4M899.5 334.4l-8.4 8.4M895.3 333.6v10M895.8 331.1l8.4 8.4M904.2 331.1l-8.4 8.4M900.0 330.3v10M900.6 331.1l8.4 8.4M909.0 331.1l-8.4 8.4M904.8 330.3v10M905.3 331.1l8.4 8.4M913.7 331.1l-8.4 8.4M909.5 330.3v10" fill="none" stroke="#4BACC6" stroke-width="1.1" opacity="0.55"/><line x1="120.5" x2="144" y1="517.2" y2="517.2" stroke="#4F81BD" stroke-width="3"/><path d="M132.25 513.4000000000001l3.8 3.8l-3.8 3.8l-3.8-3.8z" fill="#4F81BD"/><text x="145.5" y="521.5" class="lg">首都圏</text><line x1="277.2" x2="301.8" y1="517.2" y2="517.2" stroke="#C0504D" stroke-width="3"/><rect x="286.0" y="513.7" width="7" height="7" fill="#C0504D"/><text x="303.3" y="521.5" class="lg">東京都</text><line x1="434.3" x2="459.7" y1="517.2" y2="517.2" stroke="#9BBB59" stroke-width="3"/><path d="M447.0 513.2l4 7h-8z" fill="#9BBB59"/><text x="461.2" y="521.5" class="lg">神奈川県</text><line x1="603.3" x2="627.5" y1="517.2" y2="517.2" stroke="#8064A2" stroke-width="2.5"/><path d="M611.9 513.7l7 7M618.9 513.7l-7 7" stroke="#8064A2" stroke-width="0.9" opacity="0.6"/><text x="629.0" y="521.5" class="lg">千葉県</text><line x1="760.8" x2="784.6" y1="517.2" y2="517.2" stroke="#4BACC6" stroke-width="2.8"/><path d="M769.2 513.7l7 7M776.2 513.7l-7 7M772.7 513.2v8" stroke="#4BACC6" stroke-width="0.9" opacity="0.6"/><text x="786.1" y="521.5" class="lg">埼玉県</text></svg>
<div id="cap">図3 不動研住宅価格指数（2000年1月=100）</div>
<div id="src">出典:一般財団法人 日本不動産研究所</div>
</body></html>
